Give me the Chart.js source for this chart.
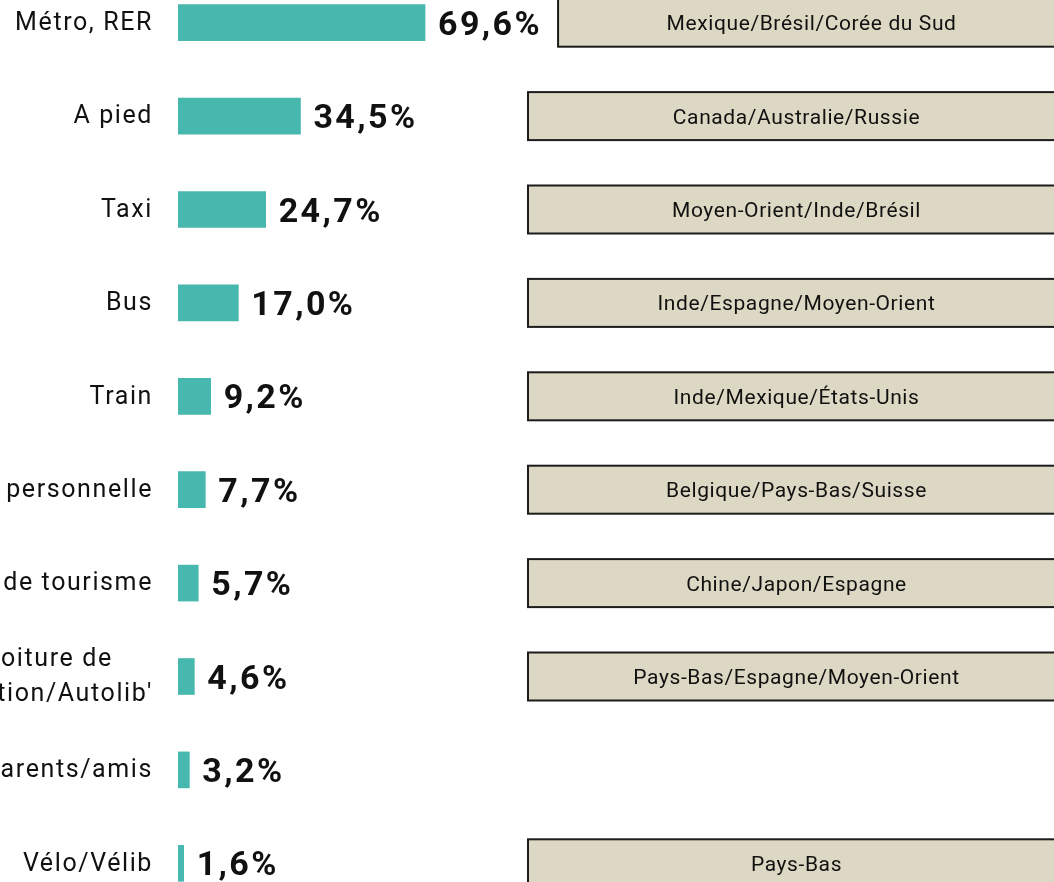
<!DOCTYPE html>
<html>
<head>
<meta charset="utf-8">
<script src="https://cdn.jsdelivr.net/npm/chart.js@4.4.1/dist/chart.umd.min.js"></script>
<style>
  html, body { margin: 0; padding: 0; background: #fff; overflow: hidden; }
  #wrap { position: absolute; left: 0; top: -24px; width: 1054px; height: 934px; }
</style>
</head>
<body>
<div id="wrap"><canvas id="chart"></canvas></div>
<script>
// --- Data ---
const categories = [
  "Métro, RER",
  "A pied",
  "Taxi",
  "Bus",
  "Train",
  "Voiture personnelle",
  "Car de tourisme",
  ["Voiture de", "location/Autolib'"],
  "Voiture de parents/amis",
  "Vélo/Vélib"
];
const values = [69.6, 34.5, 24.7, 17.0, 9.2, 7.7, 5.7, 4.6, 3.2, 1.6];
const countries = [
  "Mexique/Brésil/Corée du Sud",
  "Canada/Australie/Russie",
  "Moyen-Orient/Inde/Brésil",
  "Inde/Espagne/Moyen-Orient",
  "Inde/Mexique/États-Unis",
  "Belgique/Pays-Bas/Suisse",
  "Chine/Japon/Espagne",
  "Pays-Bas/Espagne/Moyen-Orient",
  "",
  "Pays-Bas"
];

const FONT = "Roboto, 'DejaVu Sans', sans-serif";
const BAR_COLOR = "#46b8ad";
const BOX_FILL = "#dcd8c3";
const BOX_LINE = "#1c1c1c";
const TEXT = "#111";
const CAP = 0.711; // Roboto cap height / em

const fmt = (v) => v.toFixed(1).replace(".", ",") + "%";

// --- Labels, values and country boxes ---
const labelsPlugin = {
  id: "labels",
  afterDatasetsDraw(chart) {
    const ctx = chart.ctx;
    const yScale = chart.scales.y;
    const meta = chart.getDatasetMeta(0);
    const right = chart.chartArea.left - 26;
    const boxLeft = 528, boxRight = 1065;
    ctx.save();
    ctx.textBaseline = "alphabetic";

    categories.forEach((cat, i) => {
      const cy = yScale.getPixelForValue(i);
      const lines = Array.isArray(cat) ? cat : [cat];

      // category name, block right-aligned, lines centred
      const cs = 25;
      ctx.font = `${cs}px ${FONT}`;
      ctx.letterSpacing = "1.6px";
      ctx.fillStyle = TEXT;
      ctx.textAlign = "center";
      const w = Math.max(...lines.map((l) => ctx.measureText(l).width));
      lines.forEach((l, k) => {
        const ly = cy + (k - (lines.length - 1) / 2) * 35;
        ctx.fillText(l, right - w / 2 + 1, ly + (cs * CAP) / 2 - 1.5);
      });

      // value after the bar
      const bar = meta.data[i];
      const vs = 34;
      ctx.font = `bold ${vs}px ${FONT}`;
      ctx.letterSpacing = "2.4px";
      ctx.textAlign = "left";
      const vx = bar.x + 13;
      ctx.fillText(fmt(values[i]), vx, cy + (vs * CAP) / 2);
      const vEnd = vx + ctx.measureText(fmt(values[i])).width;

      // country box, shared right edge
      if (countries[i]) {
        const left = Math.max(boxLeft, vEnd + 16);
        const bw = boxRight - left, bh = 48;
        ctx.fillStyle = BOX_FILL;
        ctx.fillRect(left, cy - bh / 2, bw, bh);
        ctx.lineWidth = 2;
        ctx.strokeStyle = BOX_LINE;
        ctx.strokeRect(left, cy - bh / 2, bw, bh);
        const bs = 21;
        ctx.font = `${bs}px ${FONT}`;
        ctx.letterSpacing = "0.6px";
        ctx.fillStyle = TEXT;
        ctx.textAlign = "center";
        ctx.fillText(countries[i], left + bw / 2, cy + (bs * CAP) / 2);
      }
    });
    ctx.restore();
  }
};

// --- Chart ---
new Chart(document.getElementById("chart"), {
  type: "bar",
  data: {
    labels: categories,
    datasets: [{ data: values, backgroundColor: BAR_COLOR, barThickness: 36 }]
  },
  options: {
    indexAxis: "y",
    responsive: true,
    maintainAspectRatio: false,
    animation: false,
    layout: { padding: 0 },
    plugins: { legend: { display: false }, tooltip: { enabled: false } },
    scales: {
      x: { display: false, min: 0, max: 246.8 },
      y: {
        grid: { display: false, drawTicks: false },
        border: { display: false },
        ticks: { display: false },
        afterFit(scale) { scale.width = 178; }
      }
    }
  },
  plugins: [labelsPlugin]
});
</script>
</body>
</html>
